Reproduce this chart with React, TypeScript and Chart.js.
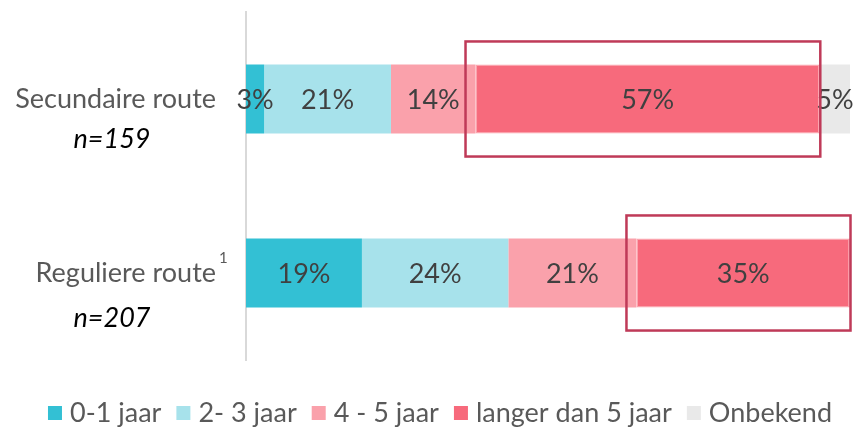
import React, { useEffect, useRef } from 'react';
import { Chart, registerables } from 'chart.js';

Chart.register(...registerables);

const categories = ['Secundaire route', 'Reguliere route'];
const sampleSizes = ['n=159', 'n=207'];
const footnotes = ['', '1'];
const seriesNames = ['0-1 jaar', '2- 3 jaar', '4 - 5 jaar', 'langer dan 5 jaar', 'Onbekend'];
const jaar01 = [3, 19];
const jaar23 = [21, 24];
const jaar45 = [14, 21];
const langer5 = [57, 35];
const onbekend = [5, 0];
const seriesValues = [jaar01, jaar23, jaar45, langer5, onbekend];
const colors = ['#33c0d4', '#a7e2eb', '#faa1ab', '#f76a7c', '#e9e9e9'];
const highlightedSeries = 3;

const FONT = 'Lato, "Open Sans", sans-serif';

const totals = categories.map((_, i) => seriesValues.reduce((s, arr) => s + arr[i], 0));

const overlayPlugin = {
  id: 'overlay',
  afterDatasetsDraw(chart: any) {
    const ctx = chart.ctx;
    ctx.save();
    // data labels
    ctx.font = `27px ${FONT}`;
    ctx.fillStyle = '#404040';
    ctx.textAlign = 'center';
    ctx.textBaseline = 'middle';
    chart.data.datasets.forEach((ds: any, di: number) => {
      const meta = chart.getDatasetMeta(di);
      meta.data.forEach((el: any, i: number) => {
        const raw = seriesValues[di][i];
        if (!raw) return;
        const cx = (el.x + el.base) / 2;
        ctx.fillText(`${raw}%`, cx, el.y + 1);
      });
    });
    // highlight boxes
    const meta = chart.getDatasetMeta(highlightedSeries);
    ctx.strokeStyle = '#bf3a58';
    ctx.lineWidth = 2.5;
    meta.data.forEach((el: any) => {
      const left = Math.min(el.base, el.x) - 10;
      const right = Math.max(el.base, el.x) + 0.5;
      const top = el.y - el.height / 2 - 23;
      const bottom = el.y + el.height / 2 + 23;
      ctx.strokeRect(left, top, right - left, bottom - top);
    });
    ctx.restore();
  },
  afterDraw(chart: any) {
    const ctx = chart.ctx;
    const yScale = chart.scales.y;
    ctx.save();
    // category labels
    const line2Offsets = [40, 45];
    categories.forEach((cat, i) => {
      const y = yScale.getPixelForValue(i);
      ctx.font = `27px ${FONT}`;
      ctx.fillStyle = '#595959';
      ctx.textAlign = 'right';
      ctx.textBaseline = 'middle';
      ctx.fillText(cat, 216, y);
      if (footnotes[i]) {
        ctx.font = `15px ${FONT}`;
        ctx.textAlign = 'left';
        ctx.fillText(footnotes[i], 219, y - 15);
      }
      ctx.font = `italic 27px ${FONT}`;
      ctx.fillStyle = '#000000';
      ctx.textAlign = 'center';
      ctx.fillText(sampleSizes[i], 112, y + line2Offsets[i]);
    });
    // legend
    ctx.font = `27px ${FONT}`;
    ctx.textBaseline = 'middle';
    ctx.textAlign = 'left';
    const box = 14;
    const gapText = 8;
    const gapItem = 15;
    const widths = seriesNames.map((n) => ctx.measureText(n).width);
    const total = widths.reduce((s, w) => s + box + gapText + w, 0) + gapItem * (seriesNames.length - 1);
    let x = 440 - total / 2;
    const ly = 413;
    seriesNames.forEach((n, i) => {
      ctx.fillStyle = colors[i];
      ctx.fillRect(x, ly - box / 2, box, box);
      x += box + gapText;
      ctx.fillStyle = '#595959';
      ctx.fillText(n, x, ly);
      x += widths[i] + gapItem;
    });
    ctx.restore();
  },
};

export default function App() {
  const ref = useRef<HTMLCanvasElement | null>(null);
  useEffect(() => {
    if (!ref.current) return;
    const chart = new Chart(ref.current, {
      type: 'bar',
      data: {
        labels: categories,
        datasets: seriesNames.map((name, di) => ({
          label: name,
          data: seriesValues[di].map((v, i) => (v / totals[i]) * 100),
          backgroundColor: colors[di],
          borderColor: di === highlightedSeries ? '#fba3ad' : colors[di],
          borderWidth: di === highlightedSeries ? 1.5 : 0,
          borderSkipped: false,
          categoryPercentage: 1,
          barPercentage: 0.397,
        })),
      },
      options: {
        indexAxis: 'y',
        animation: false,
        responsive: false,
        maintainAspectRatio: false,
        layout: { padding: { left: 246, right: 3, top: 12, bottom: 69 } },
        plugins: { legend: { display: false }, tooltip: { enabled: false } },
        scales: {
          x: { display: false, stacked: true, min: 0, max: 100 },
          y: {
            stacked: true,
            display: true,
            grid: { display: false, drawTicks: false },
            ticks: { display: false },
            border: { display: true, color: '#d9d9d9', width: 2 },
          },
        },
      },
      plugins: [overlayPlugin],
    });
    return () => chart.destroy();
  }, []);
  return (
    <div style={{ position: 'absolute', left: 0, top: 0, width: 853, height: 429, background: '#fff' }}>
      <canvas ref={ref} width={853} height={429} style={{ display: 'block' }} />
    </div>
  );
}
